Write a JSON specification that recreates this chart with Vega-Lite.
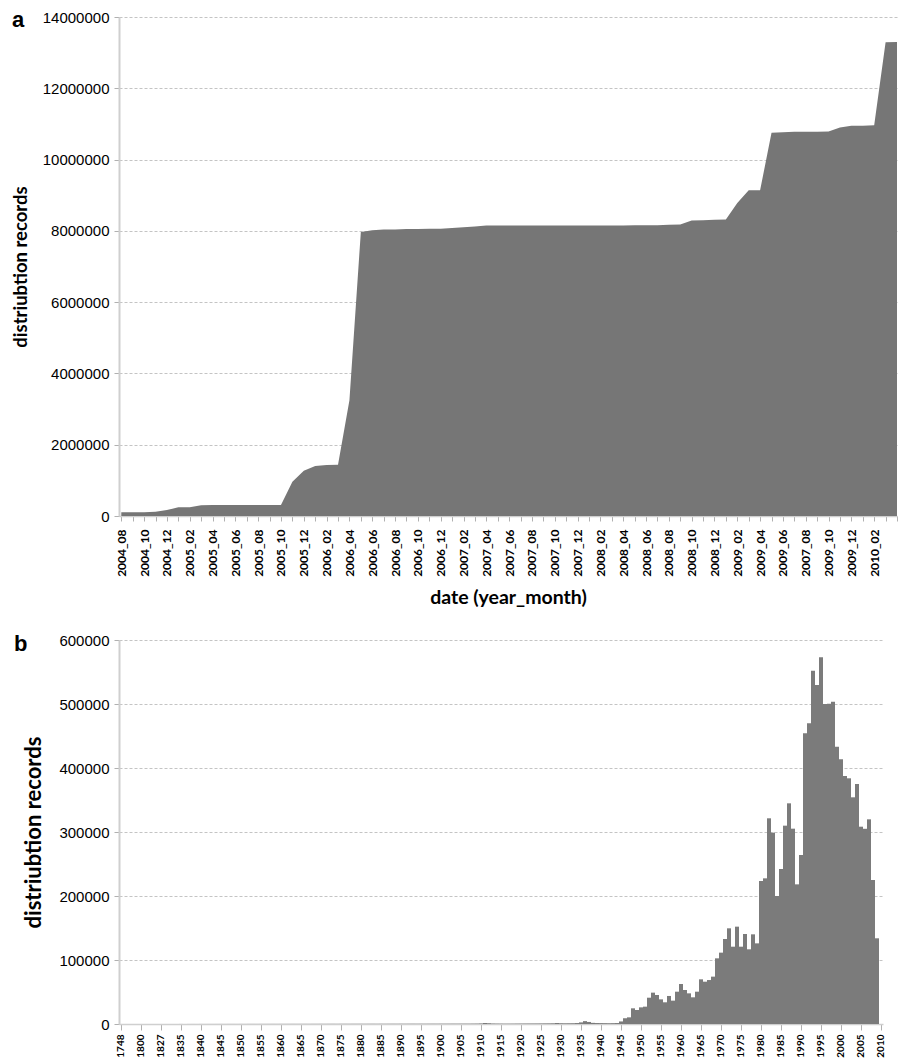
{
  "$schema": "https://vega.github.io/schema/vega-lite/v6.json",
  "background": "white",
  "padding": {"left": 11, "top": 9, "right": 0, "bottom": 0},
  "config": {"view": {"stroke": null}, "font": "Liberation Sans"},
  "spacing": 26,
  "datasets": {
    "monthly": [
      {"ym": "2004_08", "records": 105000},
      {"ym": "2004_09", "records": 105000},
      {"ym": "2004_10", "records": 105000},
      {"ym": "2004_11", "records": 120000},
      {"ym": "2004_12", "records": 165000},
      {"ym": "2005_01", "records": 245000},
      {"ym": "2005_02", "records": 245000},
      {"ym": "2005_03", "records": 305000},
      {"ym": "2005_04", "records": 308000},
      {"ym": "2005_05", "records": 308000},
      {"ym": "2005_06", "records": 308000},
      {"ym": "2005_07", "records": 308000},
      {"ym": "2005_08", "records": 308000},
      {"ym": "2005_09", "records": 308000},
      {"ym": "2005_10", "records": 308000},
      {"ym": "2005_11", "records": 960000},
      {"ym": "2005_12", "records": 1270000},
      {"ym": "2006_01", "records": 1400000},
      {"ym": "2006_02", "records": 1430000},
      {"ym": "2006_03", "records": 1440000},
      {"ym": "2006_04", "records": 3250000},
      {"ym": "2006_05", "records": 7970000},
      {"ym": "2006_06", "records": 8020000},
      {"ym": "2006_07", "records": 8040000},
      {"ym": "2006_08", "records": 8040000},
      {"ym": "2006_09", "records": 8050000},
      {"ym": "2006_10", "records": 8050000},
      {"ym": "2006_11", "records": 8060000},
      {"ym": "2006_12", "records": 8060000},
      {"ym": "2007_01", "records": 8080000},
      {"ym": "2007_02", "records": 8100000},
      {"ym": "2007_03", "records": 8120000},
      {"ym": "2007_04", "records": 8150000},
      {"ym": "2007_05", "records": 8150000},
      {"ym": "2007_06", "records": 8150000},
      {"ym": "2007_07", "records": 8150000},
      {"ym": "2007_08", "records": 8150000},
      {"ym": "2007_09", "records": 8150000},
      {"ym": "2007_10", "records": 8150000},
      {"ym": "2007_11", "records": 8150000},
      {"ym": "2007_12", "records": 8150000},
      {"ym": "2008_01", "records": 8150000},
      {"ym": "2008_02", "records": 8150000},
      {"ym": "2008_03", "records": 8150000},
      {"ym": "2008_04", "records": 8150000},
      {"ym": "2008_05", "records": 8160000},
      {"ym": "2008_06", "records": 8160000},
      {"ym": "2008_07", "records": 8160000},
      {"ym": "2008_08", "records": 8170000},
      {"ym": "2008_09", "records": 8180000},
      {"ym": "2008_10", "records": 8290000},
      {"ym": "2008_11", "records": 8300000},
      {"ym": "2008_12", "records": 8310000},
      {"ym": "2009_01", "records": 8320000},
      {"ym": "2009_02", "records": 8780000},
      {"ym": "2009_03", "records": 9140000},
      {"ym": "2009_04", "records": 9140000},
      {"ym": "2009_05", "records": 10750000},
      {"ym": "2009_06", "records": 10770000},
      {"ym": "2009_07", "records": 10780000},
      {"ym": "2009_08", "records": 10780000},
      {"ym": "2009_09", "records": 10780000},
      {"ym": "2009_10", "records": 10790000},
      {"ym": "2009_11", "records": 10900000},
      {"ym": "2009_12", "records": 10950000},
      {"ym": "2010_01", "records": 10950000},
      {"ym": "2010_02", "records": 10960000},
      {"ym": "2010_03", "records": 13290000},
      {"ym": "2010_04", "records": 13300000}
    ],
    "yearly": [
      {"year": 1748, "records": 10}, {"year": 1753, "records": 5}, {"year": 1770, "records": 8}, {"year": 1785, "records": 12}, {"year": 1795, "records": 15},
      {"year": 1800, "records": 20}, {"year": 1805, "records": 10}, {"year": 1812, "records": 18}, {"year": 1818, "records": 25}, {"year": 1823, "records": 30},
      {"year": 1827, "records": 25}, {"year": 1829, "records": 30}, {"year": 1831, "records": 35}, {"year": 1832, "records": 40}, {"year": 1834, "records": 45},
      {"year": 1835, "records": 50}, {"year": 1836, "records": 40}, {"year": 1837, "records": 55}, {"year": 1838, "records": 60}, {"year": 1839, "records": 50},
      {"year": 1840, "records": 80}, {"year": 1841, "records": 70}, {"year": 1842, "records": 90}, {"year": 1843, "records": 85}, {"year": 1844, "records": 100},
      {"year": 1845, "records": 110}, {"year": 1846, "records": 95}, {"year": 1847, "records": 120}, {"year": 1848, "records": 130}, {"year": 1849, "records": 115},
      {"year": 1850, "records": 150}, {"year": 1851, "records": 140}, {"year": 1852, "records": 160}, {"year": 1853, "records": 170}, {"year": 1854, "records": 155},
      {"year": 1855, "records": 180}, {"year": 1856, "records": 175}, {"year": 1857, "records": 190}, {"year": 1858, "records": 200}, {"year": 1859, "records": 185},
      {"year": 1860, "records": 220}, {"year": 1861, "records": 210}, {"year": 1862, "records": 230}, {"year": 1863, "records": 240}, {"year": 1864, "records": 225},
      {"year": 1865, "records": 250}, {"year": 1866, "records": 260}, {"year": 1867, "records": 245}, {"year": 1868, "records": 270}, {"year": 1869, "records": 280},
      {"year": 1870, "records": 300}, {"year": 1871, "records": 290}, {"year": 1872, "records": 310}, {"year": 1873, "records": 320}, {"year": 1874, "records": 305},
      {"year": 1875, "records": 330}, {"year": 1876, "records": 340}, {"year": 1877, "records": 325}, {"year": 1878, "records": 350}, {"year": 1879, "records": 360},
      {"year": 1880, "records": 380}, {"year": 1881, "records": 370}, {"year": 1882, "records": 390}, {"year": 1883, "records": 400}, {"year": 1884, "records": 385},
      {"year": 1885, "records": 420}, {"year": 1886, "records": 410}, {"year": 1887, "records": 430}, {"year": 1888, "records": 440}, {"year": 1889, "records": 425},
      {"year": 1890, "records": 460}, {"year": 1891, "records": 450}, {"year": 1892, "records": 470}, {"year": 1893, "records": 480}, {"year": 1894, "records": 465},
      {"year": 1895, "records": 500}, {"year": 1896, "records": 490}, {"year": 1897, "records": 510}, {"year": 1898, "records": 520}, {"year": 1899, "records": 505},
      {"year": 1900, "records": 550}, {"year": 1901, "records": 540}, {"year": 1902, "records": 560}, {"year": 1903, "records": 580}, {"year": 1904, "records": 570},
      {"year": 1905, "records": 600}, {"year": 1906, "records": 620}, {"year": 1907, "records": 610}, {"year": 1908, "records": 650}, {"year": 1909, "records": 700},
      {"year": 1910, "records": 900}, {"year": 1911, "records": 1600}, {"year": 1912, "records": 1200}, {"year": 1913, "records": 800}, {"year": 1914, "records": 700},
      {"year": 1915, "records": 650}, {"year": 1916, "records": 600}, {"year": 1917, "records": 620}, {"year": 1918, "records": 640}, {"year": 1919, "records": 700},
      {"year": 1920, "records": 750}, {"year": 1921, "records": 780}, {"year": 1922, "records": 800}, {"year": 1923, "records": 820}, {"year": 1924, "records": 850},
      {"year": 1925, "records": 900}, {"year": 1926, "records": 950}, {"year": 1927, "records": 1000}, {"year": 1928, "records": 1100}, {"year": 1929, "records": 1600},
      {"year": 1930, "records": 1200}, {"year": 1931, "records": 1100}, {"year": 1932, "records": 1150}, {"year": 1933, "records": 1200}, {"year": 1934, "records": 1500},
      {"year": 1935, "records": 2500}, {"year": 1936, "records": 4500}, {"year": 1937, "records": 3200}, {"year": 1938, "records": 1800}, {"year": 1939, "records": 1500},
      {"year": 1940, "records": 1400}, {"year": 1941, "records": 1300}, {"year": 1942, "records": 1200}, {"year": 1943, "records": 1300}, {"year": 1944, "records": 1500},
      {"year": 1945, "records": 4000}, {"year": 1946, "records": 9000}, {"year": 1947, "records": 10400}, {"year": 1948, "records": 24500}, {"year": 1949, "records": 21900},
      {"year": 1950, "records": 26000}, {"year": 1951, "records": 27100}, {"year": 1952, "records": 41100}, {"year": 1953, "records": 49000}, {"year": 1954, "records": 45300},
      {"year": 1955, "records": 38500}, {"year": 1956, "records": 33900}, {"year": 1957, "records": 43800}, {"year": 1958, "records": 36500}, {"year": 1959, "records": 50500},
      {"year": 1960, "records": 62500}, {"year": 1961, "records": 53100}, {"year": 1962, "records": 47900}, {"year": 1963, "records": 41700}, {"year": 1964, "records": 50500},
      {"year": 1965, "records": 69800}, {"year": 1966, "records": 66100}, {"year": 1967, "records": 68700}, {"year": 1968, "records": 74000}, {"year": 1969, "records": 102600},
      {"year": 1970, "records": 111500}, {"year": 1971, "records": 132800}, {"year": 1972, "records": 149500}, {"year": 1973, "records": 120800}, {"year": 1974, "records": 152100},
      {"year": 1975, "records": 120800}, {"year": 1976, "records": 140600}, {"year": 1977, "records": 116700}, {"year": 1978, "records": 140100}, {"year": 1979, "records": 126000},
      {"year": 1980, "records": 223400}, {"year": 1981, "records": 227600}, {"year": 1982, "records": 321400}, {"year": 1983, "records": 299000}, {"year": 1984, "records": 200000},
      {"year": 1985, "records": 242200}, {"year": 1986, "records": 309900}, {"year": 1987, "records": 344800}, {"year": 1988, "records": 305200}, {"year": 1989, "records": 218200},
      {"year": 1990, "records": 264100}, {"year": 1991, "records": 454200}, {"year": 1992, "records": 469800}, {"year": 1993, "records": 552100}, {"year": 1994, "records": 529700},
      {"year": 1995, "records": 572900}, {"year": 1996, "records": 500000}, {"year": 1997, "records": 500500}, {"year": 1998, "records": 503600}, {"year": 1999, "records": 433300},
      {"year": 2000, "records": 413500}, {"year": 2001, "records": 387500}, {"year": 2002, "records": 383900}, {"year": 2003, "records": 354200}, {"year": 2004, "records": 375000},
      {"year": 2005, "records": 308300}, {"year": 2006, "records": 305000}, {"year": 2007, "records": 319800}, {"year": 2008, "records": 225000}, {"year": 2009, "records": 133900},
      {"year": 2010, "records": 0}
    ]
  },
  "vconcat": [
    {
      "width": 778,
      "height": 499,
      "title": {"text": "a", "orient": "top", "anchor": "start", "frame": "group", "font": "Liberation Sans", "fontSize": 22, "fontWeight": "bold", "color": "#000000", "baseline": "alphabetic", "offset": 0, "dx": -107, "dy": 39},
      "data": {"name": "monthly"},
      "mark": {"type": "area", "color": "#767676", "interpolate": "linear"},
      "encoding": {
        "x": {
          "field": "ym", "type": "ordinal", "sort": null,
          "scale": {"type": "point", "padding": 0.1, "align": 1},
          "axis": {
            "title": "date (year_month)", "titleFont": "Lato", "titleFontSize": 19.5, "titleFontWeight": "bold", "titleColor": "#000000", "titlePadding": 12,
            "labelFont": "Lato", "labelFontSize": 12, "labelFontWeight": "bold", "labelColor": "#000000",
            "labelAngle": -90, "labelAlign": "right", "labelBaseline": "middle", "labelPadding": 8, "labelOverlap": false,
            "labelExpr": "datum.value == '2009_08' ? '2007_08' : (toNumber(substring(datum.value, 5, 7)) % 2 == 0 && datum.value != '2010_04' ? datum.value : '')",
            "tickColor": "#b0b0b0", "tickSize": 5, "domainColor": "#cfcfcf", "domainWidth": 1.5, "grid": false
          }
        },
        "y": {
          "field": "records", "type": "quantitative",
          "scale": {"domain": [0, 14000000], "nice": false},
          "axis": {
            "title": "distriubtion records", "titleFont": "Lato", "titleFontSize": 18.5, "titleFontWeight": "bold", "titleColor": "#000000", "titlePadding": 12,
            "values": [0, 2000000, 4000000, 6000000, 8000000, 10000000, 12000000, 14000000], "format": "d",
            "labelFont": "Liberation Sans", "labelFontSize": 15, "labelColor": "#000000", "labelPadding": 5,
            "tickColor": "#b0b0b0", "tickSize": 5, "domainColor": "#cfcfcf", "domainWidth": 2,
            "grid": true, "gridColor": "#c4c4c4", "gridDash": [3, 2]
          }
        }
      }
    },
    {
      "width": 764,
      "height": 384,
      "title": {"text": "b", "orient": "top", "anchor": "start", "frame": "group", "font": "Liberation Sans", "fontSize": 22, "fontWeight": "bold", "color": "#000000", "baseline": "alphabetic", "offset": 0, "dx": -105, "dy": 40},
      "data": {"name": "yearly"},
      "mark": {"type": "bar", "color": "#7b7b7b"},
      "encoding": {
        "x": {
          "field": "year", "type": "ordinal",
          "scale": {"type": "band", "paddingInner": 0, "paddingOuter": 0},
          "axis": {
            "title": null,
            "values": [1748, 1800, 1827, 1835, 1840, 1845, 1850, 1855, 1860, 1865, 1870, 1875, 1880, 1885, 1890, 1895, 1900, 1905, 1910, 1915, 1920, 1925, 1930, 1935, 1940, 1945, 1950, 1955, 1960, 1965, 1970, 1975, 1980, 1985, 1990, 1995, 2000, 2005, 2010],
            "labelFont": "Lato", "labelFontSize": 10, "labelFontWeight": "bold", "labelColor": "#000000",
            "labelAngle": -90, "labelAlign": "right", "labelBaseline": "middle", "labelPadding": 4, "labelOverlap": false,
            "tickColor": "#b0b0b0", "tickSize": 6, "domainColor": "#cfcfcf", "domainWidth": 1.5, "grid": false
          }
        },
        "y": {
          "field": "records", "type": "quantitative",
          "scale": {"domain": [0, 600000], "nice": false},
          "axis": {
            "title": "distriubtion records", "titleFont": "Lato", "titleFontSize": 22, "titleFontWeight": "bold", "titleColor": "#000000", "titlePadding": 13,
            "values": [0, 100000, 200000, 300000, 400000, 500000, 600000], "format": "d",
            "labelFont": "Liberation Sans", "labelFontSize": 15, "labelColor": "#000000", "labelPadding": 5,
            "tickColor": "#b0b0b0", "tickSize": 5, "domainColor": "#cfcfcf", "domainWidth": 2,
            "grid": true, "gridColor": "#c4c4c4", "gridDash": [3, 2]
          }
        }
      }
    }
  ]
}
